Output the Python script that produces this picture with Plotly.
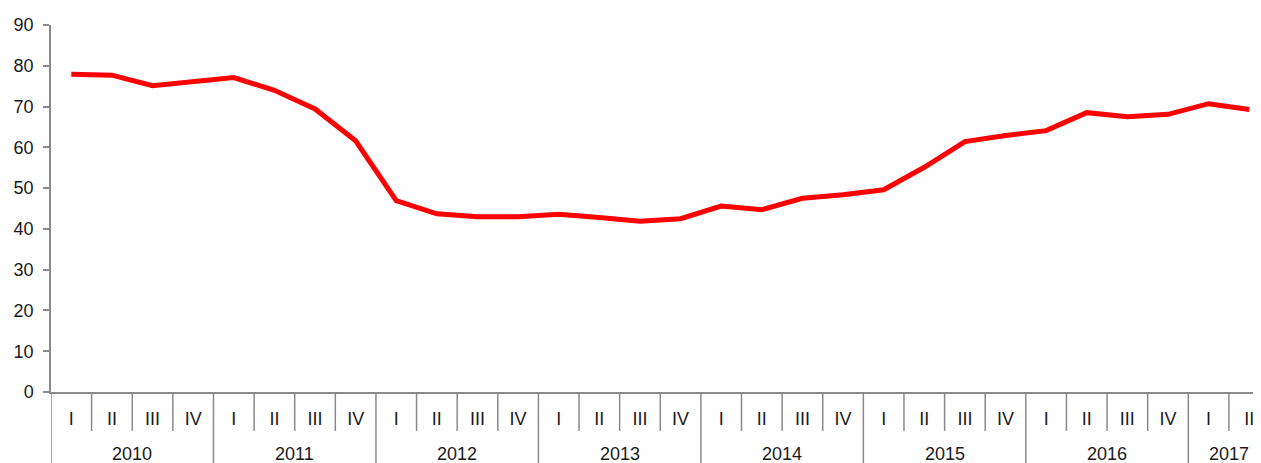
import plotly.graph_objects as go

years = ["2010", "2011", "2012", "2013", "2014", "2015", "2016", "2017"]
quarters_per_year = [4, 4, 4, 4, 4, 4, 4, 2]
quarter_names = ["I", "II", "III", "IV"]
values = [77.9, 77.7, 75.1, 76.1, 77.1, 74.0, 69.4, 61.6,
          46.9, 43.7, 43.0, 43.0, 43.6, 42.8, 41.9, 42.5,
          45.6, 44.7, 47.5, 48.4, 49.6, 55.1, 61.4, 62.9,
          64.1, 68.5, 67.5, 68.1, 70.7, 69.3]
y_ticks = [0, 10, 20, 30, 40, 50, 60, 70, 80, 90]

categories = []
quarter_labels = []
for yr, n in zip(years, quarters_per_year):
    for q in quarter_names[:n]:
        categories.append(f"{yr} {q}")
        quarter_labels.append(q)

FONT = "Liberation Sans Narrow, Arial Narrow, Liberation Sans, Arial, sans-serif"
GREY = "#8a8a8a"
TXT = "#1a1a1a"
FS = 18

# page body has an 8px margin; figure is sized/margined to compensate
M_L, M_T, M_B = 43, 17, 71
W, H = 1253, 455
plot_h = H - M_T - M_B

fig = go.Figure()
fig.add_trace(go.Scatter(
    x=categories, y=values, mode="lines",
    line=dict(color="#ff0000", width=5, shape="linear"),
    hoverinfo="x+y", showlegend=False,
))

shapes = []
annotations = []
idx = 0
for yr, n in zip(years, quarters_per_year):
    shapes.append(dict(type="line", xref="x", yref="paper",
                       x0=idx - 0.5, x1=idx - 0.5, y0=0, y1=-(M_B + 2) / plot_h,
                       line=dict(color=GREY, width=1.5)))
    for k in range(1, n):
        shapes.append(dict(type="line", xref="x", yref="paper",
                           x0=idx + k - 0.5, x1=idx + k - 0.5, y0=0, y1=-39 / plot_h,
                           line=dict(color=GREY, width=1.5)))
    annotations.append(dict(x=idx + (n - 1) / 2, y=-62 / plot_h, xref="x", yref="paper",
                            text=yr, showarrow=False, yanchor="middle", xanchor="center",
                            font=dict(family=FONT, size=FS, color=TXT)))
    idx += n

fig.update_layout(
    width=W, height=H,
    margin=dict(l=M_L, r=0, t=M_T, b=M_B, pad=0),
    paper_bgcolor="white", plot_bgcolor="white",
    font=dict(family=FONT, size=FS, color=TXT),
    shapes=shapes, annotations=annotations,
    xaxis=dict(
        type="category", categoryorder="array", categoryarray=categories,
        range=[-0.5, 29.29],
        tickmode="array", tickvals=categories, ticktext=quarter_labels,
        showline=True, linecolor=GREY, linewidth=1.5,
        showgrid=False, zeroline=False, ticks="",
        ticklabelstandoff=10,
        tickfont=dict(family=FONT, size=FS, color=TXT),
    ),
    yaxis=dict(
        range=[0, 90], tickvals=y_ticks,
        showline=True, linecolor=GREY, linewidth=1.5,
        ticks="outside", ticklen=6, tickcolor=GREY, tickwidth=1.5,
        showgrid=False, zeroline=False,
        ticklabelstandoff=6,
        tickfont=dict(family=FONT, size=FS, color=TXT),
    ),
)

fig.write_html("out.html")
